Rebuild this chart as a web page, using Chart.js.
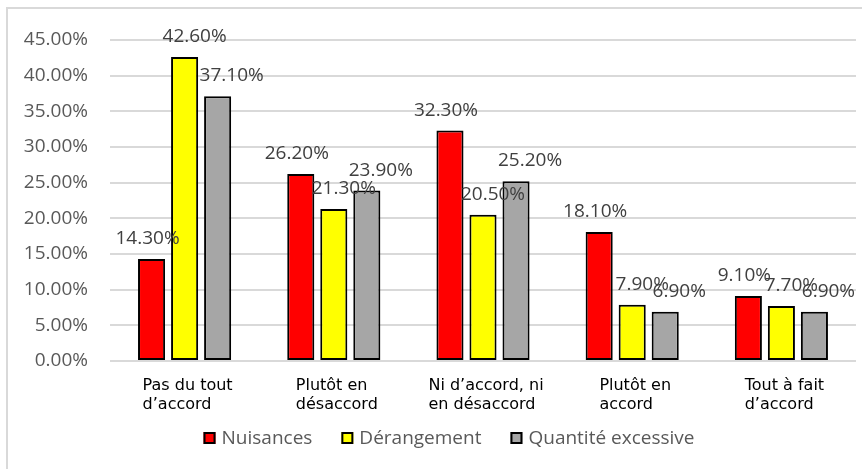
<!DOCTYPE html>
<html>
<head>
<meta charset="utf-8">
<script src="https://cdn.jsdelivr.net/npm/chart.js@4.4.0/dist/chart.umd.min.js"></script>
<style>
  html, body { margin: 0; padding: 0; background: #fff; }
  #wrap { width: 866px; height: 469px; }
</style>
</head>
<body>
<div id="wrap"><canvas id="barChart"></canvas></div>
<script>
// 카테고리 (X축, 두 줄 라벨)
const categories = [
    ['Pas du tout', 'd’accord'],
    ['Plutôt en', 'désaccord'],
    ['Ni d’accord, ni', 'en désaccord'],
    ['Plutôt en', 'accord'],
    ['Tout à fait', 'd’accord']
];

// 시리즈 이름 / 값 (%)
const seriesNames = ['Nuisances', 'Dérangement', 'Quantité excessive'];
const nuisances   = [14.3, 26.2, 32.3, 18.1, 9.1];
const derangement = [42.6, 21.3, 20.5, 7.9, 7.7];
const quantite    = [37.1, 23.9, 25.2, 6.9, 6.9];

// Y축 눈금
const yMin = 0;
const yMax = 45;
const yStep = 5;

const numFont = "'Open Sans', sans-serif";

// 차트 테두리 (왼쪽, 위쪽)
const framePlugin = {
    id: 'framePlugin',
    beforeDraw(chart) {
        const ctx = chart.ctx;
        ctx.save();
        ctx.strokeStyle = '#d9d9d9';
        ctx.lineWidth = 2;
        ctx.beginPath();
        ctx.moveTo(7, chart.height);
        ctx.lineTo(7, 8);
        ctx.lineTo(862, 8);
        ctx.stroke();
        ctx.restore();
    }
};

// 막대 위 값 라벨
const valueLabelPlugin = {
    id: 'valueLabelPlugin',
    afterDatasetsDraw(chart) {
        const ctx = chart.ctx;
        ctx.save();
        ctx.font = '19px ' + numFont;
        ctx.fillStyle = '#404040';
        ctx.textAlign = 'center';
        ctx.textBaseline = 'alphabetic';
        chart.data.datasets.forEach((dataset, i) => {
            chart.getDatasetMeta(i).data.forEach((bar, j) => {
                const text = dataset.data[j].toFixed(2) + '%';
                ctx.fillText(text, bar.x + dataset.labelShift, bar.y - 15);
            });
        });
        ctx.restore();
    }
};

// X축 라벨 (줄마다 왼쪽 정렬, 블록은 가운데)
const categoryLabelPlugin = {
    id: 'categoryLabelPlugin',
    afterDraw(chart) {
        const ctx = chart.ctx;
        const xScale = chart.scales.x;
        ctx.save();
        ctx.font = "16px 'DejaVu Sans', sans-serif";
        ctx.fillStyle = '#000';
        ctx.textAlign = 'left';
        ctx.textBaseline = 'alphabetic';
        categories.forEach((lines, i) => {
            const cx = xScale.getPixelForValue(i);
            const w = Math.max(...lines.map(l => ctx.measureText(l).width));
            lines.forEach((line, k) => {
                ctx.fillText(line, cx - w / 2 + 3, xScale.top + 29 + k * 19);
            });
        });
        ctx.restore();
    }
};

// 범례 (하단 가운데)
const legendCenterX = 449;
const legendY = 438;
const bottomLegendPlugin = {
    id: 'bottomLegendPlugin',
    afterDraw(chart) {
        const ctx = chart.ctx;
        const box = 12, textGap = 6, itemGap = 29;
        ctx.save();
        ctx.font = '19px ' + numFont;
        ctx.textAlign = 'left';
        ctx.textBaseline = 'middle';
        const widths = chart.data.datasets.map(ds => box + textGap + ctx.measureText(ds.label).width);
        const total = widths.reduce((a, b) => a + b, 0) + itemGap * (widths.length - 1);
        let x = legendCenterX - total / 2;
        chart.data.datasets.forEach((ds, i) => {
            ctx.fillStyle = ds.backgroundColor;
            ctx.fillRect(x, legendY - box / 2, box, box);
            ctx.strokeStyle = ds.borderColor;
            ctx.lineWidth = 2;
            ctx.strokeRect(x + 1, legendY - box / 2 + 1, box - 2, box - 2);
            ctx.fillStyle = '#595959';
            ctx.fillText(ds.label, x + box + textGap, legendY + 1);
            x += widths[i] + itemGap;
        });
        ctx.restore();
    }
};

// 데이터셋 생성
function createDataset(label, data, color, shift){
    return {
        label: label,
        data: data,
        backgroundColor: color,
        borderColor: '#000',
        borderWidth: 2,
        borderSkipped: false,
        categoryPercentage: 0.664,
        barPercentage: 0.82,
        labelShift: shift
    };
}

const data = {
    labels: categories.map(c => c.join(' ')),
    datasets: [
        createDataset(seriesNames[0], nuisances, '#FF0000', -4),
        createDataset(seriesNames[1], derangement, '#FFFF00', 10),
        createDataset(seriesNames[2], quantite, '#A6A6A6', 14)
    ]
};

const ctx = document.getElementById('barChart');
const barChart = new Chart(ctx, {
    type: 'bar',
    data: data,
    plugins: [framePlugin, valueLabelPlugin, categoryLabelPlugin, bottomLegendPlugin],
    options: {
        responsive: true,
        maintainAspectRatio: false,
        animation: false,
        layout: {
            padding: { left: 7, right: 10, top: 40, bottom: 0 }
        },
        scales: {
            x: {
                grid: { display: false },
                border: { display: false },
                ticks: { display: false },
                afterFit(scale) { scale.height = 108; }
            },
            y: {
                min: yMin,
                max: yMax,
                ticks: {
                    stepSize: yStep,
                    padding: 22,
                    color: '#595959',
                    font: { family: numFont, size: 19 },
                    callback: (v) => v.toFixed(2) + '%'
                },
                grid: { color: '#d9d9d9', lineWidth: 2, drawTicks: false },
                border: { display: false },
                afterFit(scale) { scale.width = 103; }
            }
        },
        plugins: {
            tooltip: { enabled: false },
            legend: { display: false }
        }
    }
});
</script>
</body>
</html>
